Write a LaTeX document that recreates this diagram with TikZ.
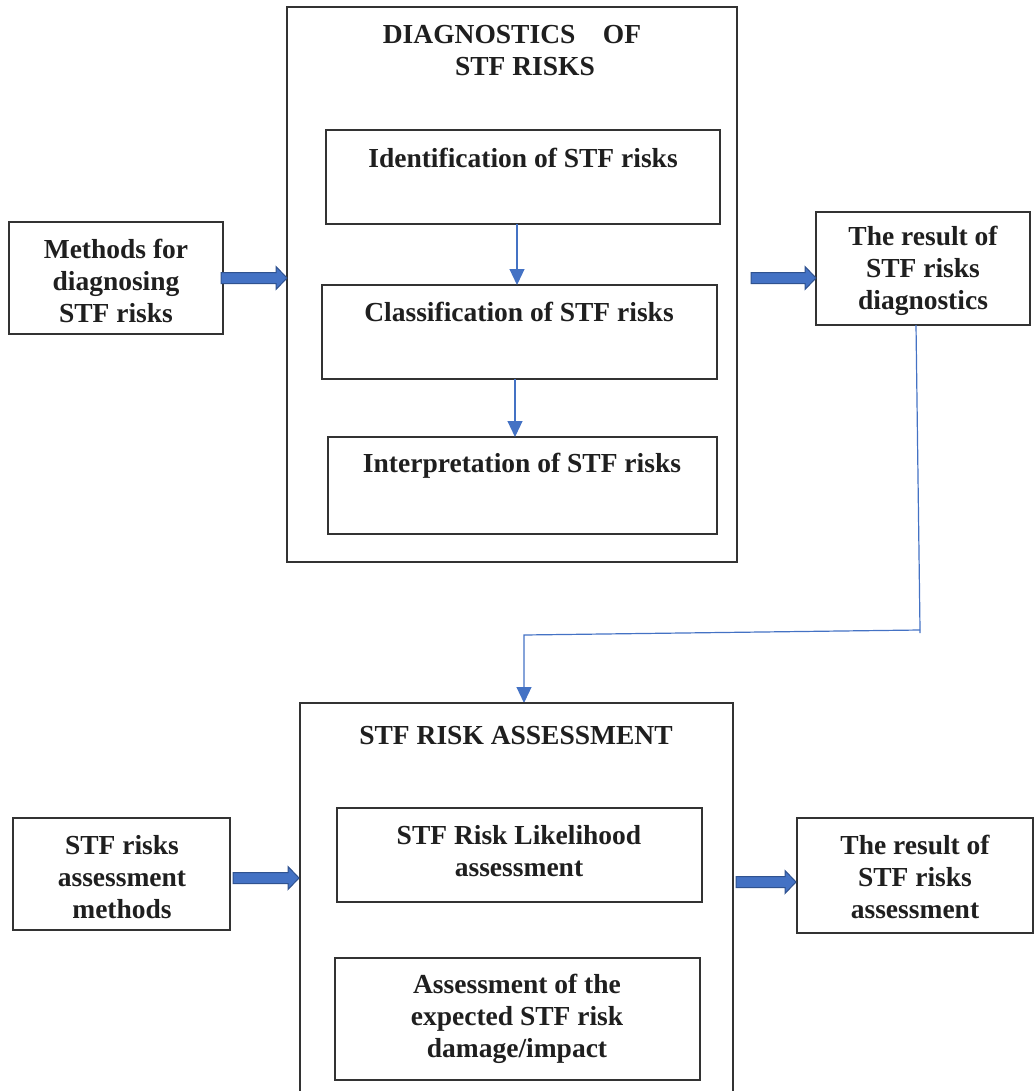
\documentclass[tikz,border=0pt]{standalone}
\usepackage{fontspec}
\setmainfont{Liberation Serif}
\usetikzlibrary{arrows.meta,calc}
\definecolor{boxline}{HTML}{333333}
\definecolor{barrowfill}{HTML}{4472C4}
\definecolor{barrowline}{HTML}{2F528F}
\begin{document}
\begin{tikzpicture}[x=1pt,y=-1pt,
  txt/.style={font=\fontsize{27.5}{32}\selectfont\bfseries, align=center, text=black!88},
  frame/.style={draw=boxline, line width=1.3pt},
  thinarrow/.style={draw=barrowfill, line width=1.2pt, -{Triangle[width=15pt,length=16pt]}},
  barrow/.style={fill=barrowfill, draw=barrowline, line width=1pt}
]
\useasboundingbox (0,0) rectangle (1035,1091);
% ---------- top part ----------
\draw[frame] (287,7) rectangle (737,562);
\node[txt] (t1a) at (512,35) {DIAGNOSTICS\quad OF};
\node[txt] (t1b) at (525,67) {STF RISKS};
\draw[frame] (326,130) rectangle (720,224);
\node[txt] (idn) at (523,158) {Identification of STF risks};
\coordinate (idb) at (517,224);
\draw[frame] (322,285) rectangle (717,379);
\node[txt] (cls) at (519,312) {Classification of STF risks};
\coordinate (clt) at (517,285);
\coordinate (clb) at (515,379);
\draw[frame] (328,437) rectangle (717,534);
\node[txt] (itp) at (522,466) {Interpretation of STF risks};
\coordinate (itt) at (515,437);
\draw[thinarrow] (idb) -- (clt);
\draw[thinarrow] (clb) -- (itt);

\draw[frame] (9,222) rectangle (223,334);
\node[txt] (meth) at (116,281) {Methods for\\diagnosing\\STF risks};
\draw[frame] (816,212) rectangle (1030,325);
\node[txt] (res1) at (923,271) {The result of\\STF risks\\diagnostics};

% block arrows top
\coordinate (ba1) at (221,278);
\coordinate (ba2) at (751,278);
\filldraw[barrow] ($(ba1)+(0,-5.5)$) -- ++(55,0) -- ++(0,-6) -- ++(11,11.5) -- ++(-11,11.5) -- ++(0,-6) -- ++(-55,0) -- cycle;
\filldraw[barrow] ($(ba2)+(0,-5.5)$) -- ++(54,0) -- ++(0,-6) -- ++(11,11.5) -- ++(-11,11.5) -- ++(0,-6) -- ++(-54,0) -- cycle;

% connector
\coordinate (c0) at (916,325);
\coordinate (c1) at (920,630);
\coordinate (c2) at (524,635);
\coordinate (c3) at (524,703);
\draw[draw=barrowfill, line width=1.2pt] (c0) -- (c1) -- ++(0,3);
\draw[thinarrow] (c1) -- (c2) -- (c3);

% ---------- bottom part ----------
\draw[frame] (300,1100) -- (300,703) -- (733,703) -- (733,1100);
\node[txt] (t2) at (516,736) {STF RISK ASSESSMENT};
\draw[frame] (337,808) rectangle (702,902);
\node[txt] (lik) at (519,851) {STF Risk Likelihood\\assessment};
\draw[frame] (335,958) rectangle (700,1080);
\node[txt] (dmg) at (517,1019) {Assessment of the\\expected STF risk\\damage/impact};

\draw[frame] (13,818) rectangle (230,930);
\node[txt] (am) at (122,877) {STF risks\\assessment\\methods};
\draw[frame] (797,818) rectangle (1033,933);
\node[txt] (res2) at (915,877) {The result of\\STF risks\\assessment};

\coordinate (ba3) at (233,878);
\coordinate (ba4) at (736,882);
\filldraw[barrow] ($(ba3)+(0,-5.5)$) -- ++(55,0) -- ++(0,-6) -- ++(11,11.5) -- ++(-11,11.5) -- ++(0,-6) -- ++(-55,0) -- cycle;
\filldraw[barrow] ($(ba4)+(0,-5.5)$) -- ++(49,0) -- ++(0,-6) -- ++(11,11.5) -- ++(-11,11.5) -- ++(0,-6) -- ++(-49,0) -- cycle;
\end{tikzpicture}
\end{document}
